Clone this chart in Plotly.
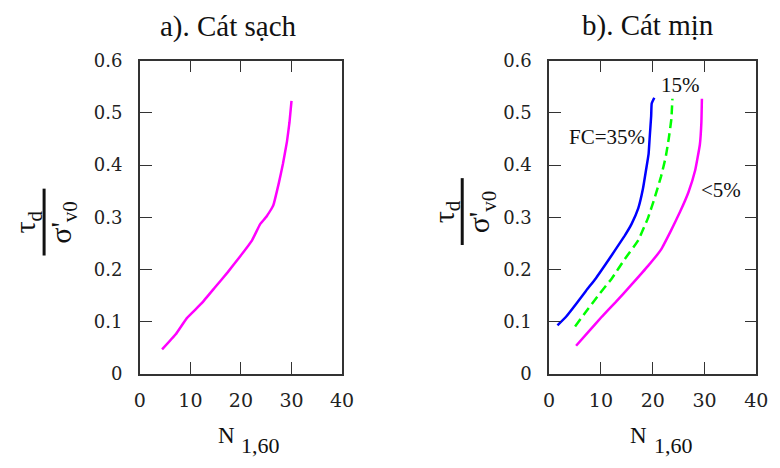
import plotly.graph_objects as go

# ---------------- data ----------------
# panel a) clean sand
clean_N = [4.4, 7.1, 9.3, 12.2, 14.8, 17.4, 19.9, 22.2, 23.8, 25.1, 26.4, 27.5, 28.3, 29.1, 29.6, 30.0]
clean_csr = [0.047, 0.076, 0.107, 0.135, 0.165, 0.195, 0.226, 0.256, 0.287, 0.302, 0.323, 0.366, 0.402, 0.445, 0.482, 0.523]

# panel b) silty sand
fc35_N = [1.6, 3.3, 5.2, 7.1, 9.0, 10.9, 12.8, 14.6, 15.9, 17.2, 18.1, 18.7, 19.2, 19.4, 19.7, 19.8, 20.3]
fc35_csr = [0.093, 0.110, 0.134, 0.159, 0.183, 0.210, 0.238, 0.265, 0.287, 0.317, 0.354, 0.390, 0.421, 0.451, 0.494, 0.518, 0.529]

fc15_N = [5.0, 7.1, 9.6, 12.1, 14.6, 17.2, 19.1, 20.3, 21.6, 22.5, 23.1, 23.6, 23.8]
fc15_csr = [0.091, 0.119, 0.152, 0.183, 0.220, 0.256, 0.299, 0.335, 0.378, 0.415, 0.451, 0.488, 0.527]

fc5_N = [5.2, 7.7, 10.2, 12.8, 15.9, 19.1, 21.6, 23.5, 25.3, 26.9, 28.2, 29.1, 29.4, 29.5]
fc5_csr = [0.054, 0.082, 0.110, 0.137, 0.171, 0.207, 0.238, 0.274, 0.311, 0.348, 0.390, 0.439, 0.482, 0.527]

x_ticks = [0, 10, 20, 30, 40]
y_ticks = [0, 0.1, 0.2, 0.3, 0.4, 0.5, 0.6]
y_tick_text = ["0", "0.1", "0.2", "0.3", "0.4", "0.5", "0.6"]
curve_labels = ["FC=35%", "15%", "<5%"]
titles = ["a). Cát sạch", "b). Cát mịn"]

# ---------------- figure ----------------
W, H = 780, 468
FONT = "Liberation Serif"
TICKFONT = "DejaVu Serif"
MAGENTA, BLUE, GREEN = "#FF00FF", "#0000FF", "#00FF00"

fig = go.Figure()
fig.add_trace(go.Scatter(x=clean_N, y=clean_csr, mode="lines",
                         line=dict(color=MAGENTA, width=2.5, shape="spline", smoothing=0.3),
                         xaxis="x", yaxis="y", showlegend=False))
fig.add_trace(go.Scatter(x=fc35_N, y=fc35_csr, mode="lines",
                         line=dict(color=BLUE, width=2.5, shape="spline", smoothing=0.3),
                         xaxis="x2", yaxis="y2", showlegend=False))
fig.add_trace(go.Scatter(x=fc15_N, y=fc15_csr, mode="lines",
                         line=dict(color=GREEN, width=2.5, dash="9px,5px", shape="spline", smoothing=0.3),
                         xaxis="x2", yaxis="y2", showlegend=False))
fig.add_trace(go.Scatter(x=fc5_N, y=fc5_csr, mode="lines",
                         line=dict(color=MAGENTA, width=2.5, shape="spline", smoothing=0.3),
                         xaxis="x2", yaxis="y2", showlegend=False))

def px(x):
    return x / W

def py(y):
    return 1 - y / H

ydom = [py(380), py(52)]
common_x = dict(range=[0, 40], tickvals=x_ticks, ticks="inside", ticklen=12, tickwidth=1.3,
                tickcolor="#333", showline=True, linecolor="#333", linewidth=1.5,
                showgrid=False, zeroline=False, mirror="ticks",
                tickfont=dict(family=TICKFONT, size=19, color="#222"), ticklabelstandoff=9)
common_y = dict(range=[0, 0.6], tickvals=y_ticks, ticktext=y_tick_text, ticks="inside", ticklen=12,
                tickwidth=1.3, tickcolor="#333", showline=True, linecolor="#333", linewidth=1.5,
                showgrid=False, zeroline=False, domain=ydom,
                tickfont=dict(family=TICKFONT, size=18, color="#222"), ticklabelstandoff=12)

fig.update_layout(
    width=W, height=H, margin=dict(l=0, r=0, t=0, b=0),
    paper_bgcolor="white", plot_bgcolor="white",
    xaxis=dict(common_x, domain=[px(137), px(344)], anchor="y"),
    yaxis=dict(common_y, anchor="x", mirror=True),
    xaxis2=dict(common_x, domain=[px(556), px(768)], anchor="y2"),
    yaxis2=dict(common_y, anchor="x2", mirror="ticks"),
)

ann = []

def add_text(text, x, y, size, angle=0, xref="paper", yref="paper"):
    ann.append(dict(text=text, x=x, y=y, xref=xref, yref=yref, xanchor="center", yanchor="middle",
                    textangle=angle, showarrow=False, font=dict(family=FONT, size=size, color="#111")))

# titles
add_text(titles[0], px(228), py(16), 29)
add_text(titles[1], px(657), py(15), 29)

# x-axis labels N_{1,60}
for nx, sx in [(226, 261), (647, 683)]:
    add_text("N", px(nx), py(444), 23)
    add_text("1,60", px(sx), py(455), 22)

# y-axis label fraction tau_d / sigma'_v0
shapes = []
for barx, y0, y1, numx, denx in [(39, 186, 256, 22, 58), (467, 175, 245, 450, 486)]:
    yc = (y0 + y1) / 2
    shapes.append(dict(type="line", xref="paper", yref="paper",
                       x0=px(barx), x1=px(barx), y0=py(y0), y1=py(y1),
                       line=dict(color="#111", width=3)))
    add_text("τ<sub>d</sub>", px(numx), py(yc), 30, angle=-90)
    add_text("σ'<sub>v0</sub>", px(denx), py(yc), 30, angle=-90)

# curve labels in panel b
for txt, lx, ly in zip(curve_labels, [11.2, 25.3, 33.1], [0.454, 0.554, 0.352]):
    add_text(txt, lx, ly, 21, xref="x2", yref="y2")

fig.update_layout(annotations=ann, shapes=shapes)
fig.write_html("out.html")
